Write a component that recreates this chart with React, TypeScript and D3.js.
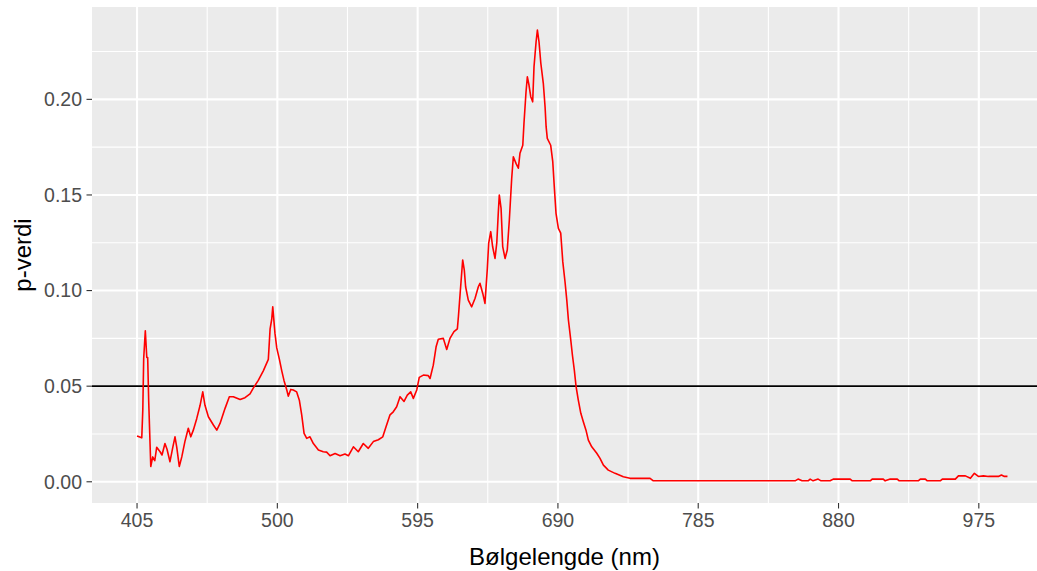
import React from "react";
import * as d3 from "d3";

// Wavelength (nm) and p-value
const wavelength = [
  405.0, 408.2, 408.9, 409.5, 410.6, 411.6, 412.2, 412.9, 414.3, 415.6, 417.0, 418.3, 420.6, 421.9, 423.9,
  425.3, 427.3, 429.2, 430.7, 431.9, 433.6, 435.3, 437.4, 439.7, 441.4, 443.1, 445.4, 447.7, 449.5, 451.0,
  453.3, 456.7, 459.0, 461.2, 464.6, 467.5, 470.2, 474.8, 478.1, 481.5, 483.7, 487.1, 490.5, 493.9, 495.1,
  496.2, 496.9, 498.4, 499.6, 501.4, 503.0, 504.5, 506.4, 507.4, 509.1, 510.8, 513.1, 514.9, 516.5, 518.1,
  519.9, 522.1, 524.4, 527.8, 531.1, 533.4, 535.7, 539.1, 542.5, 545.8, 548.1, 551.5, 554.8, 558.2, 561.6,
  565.0, 568.4, 571.4, 573.6, 576.3, 578.5, 580.8, 583.1, 585.8, 588.0, 590.3, 592.1, 594.4, 596.1, 598.9,
  602.2, 603.4, 605.6, 607.5, 609.0, 612.4, 614.7, 616.9, 619.6, 621.9, 622.6, 623.7, 625.5, 626.6, 627.5,
  629.3, 631.6, 633.9, 636.1, 637.2, 639.1, 640.6, 642.2, 643.1, 644.5, 645.8, 647.4, 648.6, 649.6, 650.3,
  651.5, 652.6, 654.2, 655.7, 657.1, 658.7, 659.8, 661.6, 663.2, 664.3, 666.2, 667.0, 668.4, 669.3, 670.4,
  671.6, 672.9, 673.8, 675.2, 676.1, 677.2, 678.4, 680.1, 681.3, 682.0, 682.8, 685.1, 686.5, 687.6, 688.7,
  690.3, 691.9, 693.3, 694.8, 696.0, 697.1, 698.7, 699.8, 701.1, 702.3, 703.8, 705.5, 707.2, 709.0, 710.6,
  712.9, 716.3, 718.5, 720.8, 724.1, 728.7, 734.3, 738.8, 752.4, 754.6, 772.7, 850.6, 852.6, 855.3, 859.4,
  860.8, 862.8, 866.2, 868.2, 874.3, 876.4, 887.9, 889.3, 901.5, 902.8, 910.3, 911.6, 915.0, 919.8, 921.1,
  934.0, 935.4, 938.8, 940.1, 948.9, 950.3, 959.1, 961.2, 965.9, 969.3, 972.0, 974.7, 978.1, 981.5, 988.3,
  990.3, 992.3, 994.4,
];
const pValue = [
  0.024, 0.023, 0.0375, 0.0645, 0.079, 0.065, 0.065, 0.042, 0.008, 0.013, 0.011, 0.018, 0.0157, 0.014, 0.02,
  0.017, 0.0105, 0.018, 0.0235, 0.018, 0.008, 0.013, 0.021, 0.028, 0.0235, 0.027, 0.033, 0.04, 0.047, 0.04,
  0.034, 0.0297, 0.027, 0.0305, 0.0384, 0.0445, 0.0445, 0.043, 0.044, 0.046, 0.049, 0.053, 0.058, 0.064, 0.08,
  0.085, 0.0915, 0.0776, 0.07, 0.064, 0.058, 0.053, 0.048, 0.0448, 0.0483, 0.048, 0.047, 0.0427, 0.035, 0.0253,
  0.0227, 0.0235, 0.02, 0.0166, 0.0157, 0.0155, 0.0136, 0.0148, 0.0136, 0.0145, 0.0136, 0.0183, 0.0157, 0.02, 0.0175,
  0.021, 0.022, 0.0235, 0.0288, 0.035, 0.0366, 0.0392, 0.0445, 0.042, 0.0453, 0.047, 0.0436, 0.048, 0.0546, 0.0558,
  0.0555, 0.054, 0.061, 0.0706, 0.0745, 0.075, 0.0692, 0.075, 0.0785, 0.08, 0.0863, 0.0976, 0.116, 0.1107, 0.102,
  0.095, 0.0915, 0.096, 0.102, 0.1038, 0.0985, 0.0933, 0.1116, 0.1247, 0.1308, 0.1229, 0.1168, 0.125, 0.1404, 0.15,
  0.143, 0.123, 0.1168, 0.1212, 0.1369, 0.1587, 0.17, 0.1665, 0.164, 0.1718, 0.176, 0.1874, 0.204, 0.2118, 0.2075,
  0.2014, 0.1987, 0.217, 0.23, 0.2362, 0.23, 0.219, 0.2084, 0.196, 0.1857, 0.1796, 0.176, 0.1674, 0.1535, 0.1404,
  0.1325, 0.13, 0.115, 0.1046, 0.095, 0.0846, 0.0741, 0.0663, 0.0584, 0.0497, 0.0427, 0.0358, 0.0314, 0.027, 0.0218,
  0.0183, 0.0149, 0.0122, 0.0087, 0.0061, 0.0044, 0.0026, 0.0018, 0.0018, 0.0005, 0.0005, 0.0005, 0.0014, 0.0005, 0.0005,
  0.0014, 0.0005, 0.0014, 0.0005, 0.0005, 0.0014, 0.0014, 0.0005, 0.0005, 0.0014, 0.0014, 0.0005, 0.0014, 0.0014, 0.0005,
  0.0005, 0.0014, 0.0014, 0.0005, 0.0005, 0.0014, 0.0014, 0.0031, 0.0031, 0.0018, 0.0044, 0.0028, 0.0031, 0.0028, 0.0028,
  0.0035, 0.0028, 0.0028,
];

const xTicks = [405, 500, 595, 690, 785, 880, 975];
const xMinor = [452.5, 547.5, 642.5, 737.5, 832.5, 927.5];
const yTicks = [0, 0.05, 0.1, 0.15, 0.2];
const yMinor = [0.025, 0.075, 0.125, 0.175, 0.225];
const threshold = 0.05;

const xTitle = "Bølgelengde (nm)";
const yTitle = "p-verdi";

export default function App() {
  const W = 1037;
  const H = 571;
  const left = 92;
  const right = 1037;
  const top = 7;
  const bottom = 503;

  const x = d3.scaleLinear().domain([374.5, 1014.4]).range([left, right]);
  const y = d3.scaleLinear().domain([-0.0111, 0.2483]).range([bottom, top]);

  const data = wavelength.map((w, i) => [w, pValue[i]] as [number, number]);
  const line = d3
    .line<[number, number]>()
    .x((d) => x(d[0]))
    .y((d) => y(d[1]));

  const font = "'Liberation Sans', Arial, sans-serif";

  return (
    <div style={{ position: "fixed", left: 0, top: 0 }}>
      <svg width={W} height={H} style={{ display: "block", background: "#fff" }}>
        <rect x={left} y={top} width={right - left} height={bottom - top} fill="#EBEBEB" />
        {yMinor.map((t) => (
          <line key={"ym" + t} x1={left} x2={right} y1={y(t)} y2={y(t)} stroke="#fff" strokeWidth={1.1} />
        ))}
        {xMinor.map((t) => (
          <line key={"xm" + t} x1={x(t)} x2={x(t)} y1={top} y2={bottom} stroke="#fff" strokeWidth={1.1} />
        ))}
        {yTicks.map((t) => (
          <line key={"yM" + t} x1={left} x2={right} y1={y(t)} y2={y(t)} stroke="#fff" strokeWidth={2.1} />
        ))}
        {xTicks.map((t) => (
          <line key={"xM" + t} x1={x(t)} x2={x(t)} y1={top} y2={bottom} stroke="#fff" strokeWidth={2.1} />
        ))}
        <line x1={left} x2={right} y1={y(threshold)} y2={y(threshold)} stroke="#000" strokeWidth={1.6} />
        <path d={line(data) || ""} fill="none" stroke="#FF0000" strokeWidth={1.6} strokeLinejoin="round" />
        {/* axes */}
        {yTicks.map((t) => (
          <g key={"yt" + t}>
            <line x1={left - 5.5} x2={left} y1={y(t)} y2={y(t)} stroke="#333" strokeWidth={1.1} />
            <text
              x={left - 10}
              y={y(t)}
              dy="0.35em"
              textAnchor="end"
              fontFamily={font}
              fontSize={19.5}
              fill="#4D4D4D"
            >
              {t.toFixed(2)}
            </text>
          </g>
        ))}
        {xTicks.map((t) => (
          <g key={"xt" + t}>
            <line x1={x(t)} x2={x(t)} y1={bottom} y2={bottom + 5.5} stroke="#333" strokeWidth={1.1} />
            <text
              x={x(t)}
              y={bottom + 10}
              dy="0.71em"
              textAnchor="middle"
              fontFamily={font}
              fontSize={19.5}
              fill="#4D4D4D"
            >
              {t}
            </text>
          </g>
        ))}
        <text
          x={(left + right) / 2}
          y={H - 6}
          textAnchor="middle"
          fontFamily={font}
          fontSize={24}
          fill="#000"
        >
          {xTitle}
        </text>
        <text
          transform={`translate(${31},${(top + bottom) / 2}) rotate(-90)`}
          textAnchor="middle"
          fontFamily={font}
          fontSize={24}
          fill="#000"
        >
          {yTitle}
        </text>
      </svg>
    </div>
  );
}
